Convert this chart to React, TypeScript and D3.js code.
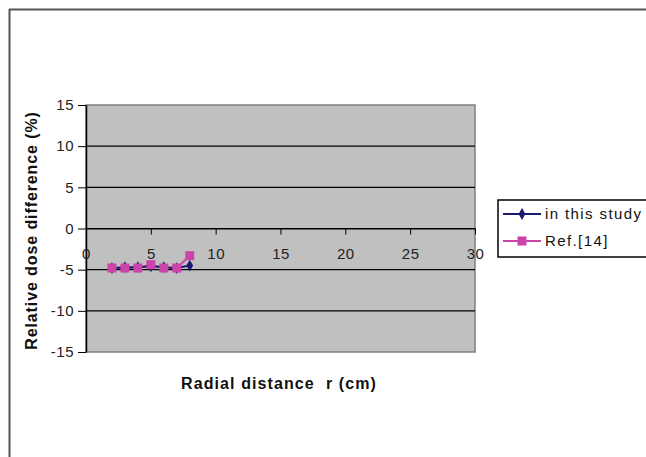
import React, { useEffect, useRef } from 'react';
import * as d3 from 'd3';

const radii = [2, 3, 4, 5, 6, 7, 8];
const thisStudy = [-4.8, -4.7, -4.7, -4.6, -4.7, -4.8, -4.5];
const ref14 = [-4.8, -4.8, -4.8, -4.4, -4.8, -4.8, -3.3];
const xTicks = [0, 5, 10, 15, 20, 25, 30];
const yTicks = [-15, -10, -5, 0, 5, 10, 15];
const seriesNames = ['in this study', 'Ref.[14]'];

const App = () => {
  const ref = useRef<SVGSVGElement>(null);

  useEffect(() => {
    const svg = d3.select(ref.current);
    svg.selectAll('*').remove();

    const font = 'Arial, "Liberation Sans", sans-serif';
    const left = 86, right = 475, top = 105, bottom = 352;

    const x = d3.scaleLinear().domain([0, 30]).range([left, right]);
    const y = d3.scaleLinear().domain([-15, 15]).range([bottom, top]);
    const fmt = (d: number) => String(d);

    // outer frame (top and left edges only visible)
    svg.append('line').attr('x1', 9).attr('y1', 9.5).attr('x2', 646).attr('y2', 9.5)
      .attr('stroke', '#555').attr('stroke-width', 2);
    svg.append('line').attr('x1', 9.5).attr('y1', 9).attr('x2', 9.5).attr('y2', 457)
      .attr('stroke', '#555').attr('stroke-width', 2);

    // plot area
    svg.append('rect').attr('x', left).attr('y', top)
      .attr('width', right - left).attr('height', bottom - top)
      .attr('fill', '#c0c0c0').attr('stroke', '#808080').attr('stroke-width', 1.5);

    // grid lines
    svg.append('g').selectAll('line')
      .data(yTicks.filter(v => v > -15 && v < 15))
      .join('line')
      .attr('x1', left).attr('x2', right)
      .attr('y1', d => y(d)).attr('y2', d => y(d))
      .attr('stroke', '#000').attr('stroke-width', 1.2);

    // y axis
    const yAxis = svg.append('g')
      .attr('transform', `translate(${left},0)`)
      .call(d3.axisLeft(y).tickValues(yTicks).tickFormat(fmt as any).tickSize(8).tickSizeOuter(0).tickPadding(4));
    yAxis.select('.domain').attr('stroke', '#000').attr('stroke-width', 1.5);
    yAxis.selectAll('line').attr('stroke', '#000');
    yAxis.selectAll('text').attr('font-family', font).attr('font-size', 15).attr('fill', '#222')
      .attr('letter-spacing', 0.5);

    // x axis crossing at 0
    const xAxis = svg.append('g')
      .attr('transform', `translate(0,${y(0)})`)
      .call(d3.axisBottom(x).tickValues(xTicks).tickFormat(fmt as any).tickSize(6).tickSizeOuter(0).tickPadding(14));
    xAxis.select('.domain').attr('stroke', '#000').attr('stroke-width', 1.2);
    xAxis.selectAll('.tick line').attr('stroke', '#000');
    xAxis.selectAll('text').attr('font-family', font).attr('font-size', 15).attr('fill', '#222')
      .attr('letter-spacing', 0.5);

    const line = d3.line<number>().x((_, i) => x(radii[i])).y(d => y(d));

    // Ref.[14] series
    svg.append('path').attr('d', line(ref14))
      .attr('fill', 'none').attr('stroke', '#cc44aa').attr('stroke-width', 2);
    // this study series
    svg.append('path').attr('d', line(thisStudy))
      .attr('fill', 'none').attr('stroke', '#1a1a70').attr('stroke-width', 2);

    svg.append('g').selectAll('path')
      .data(thisStudy)
      .join('path')
      .attr('transform', (d, i) => `translate(${x(radii[i])},${y(d)})`)
      .attr('d', d3.symbol(d3.symbolDiamond, 40)())
      .attr('fill', '#1a1a70');

    svg.append('g').selectAll('rect')
      .data(ref14)
      .join('rect')
      .attr('x', (d, i) => x(radii[i]) - 4.5).attr('y', d => y(d) - 4.5)
      .attr('width', 9).attr('height', 9)
      .attr('fill', '#cc44aa');

    // axis titles
    svg.append('text')
      .attr('transform', `translate(37,${(top + bottom) / 2 + 2}) rotate(-90)`)
      .attr('text-anchor', 'middle')
      .attr('font-family', font).attr('font-size', 16).attr('font-weight', 'bold')
      .attr('letter-spacing', 0.9)
      .attr('fill', '#111')
      .text('Relative dose difference (%)');

    svg.append('text')
      .attr('x', 279).attr('y', 389)
      .attr('text-anchor', 'middle')
      .attr('font-family', font).attr('font-size', 16).attr('font-weight', 'bold')
      .attr('letter-spacing', 1.1)
      .attr('fill', '#111')
      .style('white-space', 'pre')
      .text('Radial distance  r (cm)');

    // legend
    const lg = svg.append('g');
    lg.append('rect').attr('x', 498).attr('y', 200).attr('width', 160).attr('height', 57)
      .attr('fill', '#fff').attr('stroke', '#000').attr('stroke-width', 1.5);
    const colors = ['#1a1a70', '#cc44aa'];
    seriesNames.forEach((name, i) => {
      const cy = 214 + i * 27;
      lg.append('line').attr('x1', 503).attr('x2', 541).attr('y1', cy).attr('y2', cy)
        .attr('stroke', colors[i]).attr('stroke-width', 2);
      if (i === 0) {
        lg.append('path').attr('transform', `translate(522,${cy})`)
          .attr('d', d3.symbol(d3.symbolDiamond, 40)()).attr('fill', colors[i]);
      } else {
        lg.append('rect').attr('x', 517.5).attr('y', cy - 4.5).attr('width', 9).attr('height', 9)
          .attr('fill', colors[i]);
      }
      lg.append('text').attr('x', 545).attr('y', cy + 5)
        .attr('font-family', font).attr('font-size', 15).attr('letter-spacing', 1.4)
        .attr('fill', '#111')
        .text(name);
    });
  }, []);

  return (
    <svg ref={ref} width={646} height={457}
      style={{ position: 'absolute', left: 0, top: 0, background: '#fff' }} />
  );
};

export default App;
